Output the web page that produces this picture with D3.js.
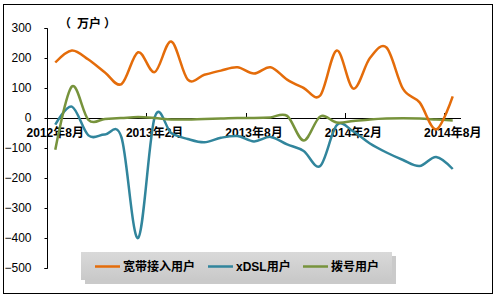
<!DOCTYPE html>
<html>
<head>
<meta charset="utf-8">
<script src="https://cdn.jsdelivr.net/npm/d3@7"></script>
<style>
  body { margin: 0; background: #fff; }
  text { font-family: "Liberation Sans", Arial, "Noto Sans CJK SC", sans-serif; }
  .cn { font-family: "Liberation Sans", "Noto Sans CJK SC", sans-serif; font-weight: bold; }
  .unit { font-family: "Noto Sans CJK SC", sans-serif; font-weight: bold; }
</style>
</head>
<body>
<div id="chart"></div>
<script>
// months on the category axis
var months = ["2012年8月","2012年9月","2012年10月","2012年11月","2012年12月",
    "2013年1月","2013年2月","2013年3月","2013年4月","2013年5月","2013年6月","2013年7月",
    "2013年8月","2013年9月","2013年10月","2013年11月","2013年12月","2014年1月",
    "2014年2月","2014年3月","2014年4月","2014年5月","2014年6月","2014年7月","2014年8月"];
var tickLabels = ["2012年8月","2013年2月","2013年8月","2014年2月","2014年8月"];
var yTicks = [300, 200, 100, 0, -100, -200, -300, -400, -500];
var seriesNames = ["宽带接入用户", "xDSL用户", "拨号用户"];

// 万户
var broadband = [185, 225, 195, 152, 113, 219, 153, 255, 128, 144, 158, 169, 148,
                 169, 128, 100, 75, 225, 98, 200, 235, 97, 52, -38, 72];
var xdsl = [-22, 38, -58, -55, -65, -400, 2, -50, -70, -81, -66, -60, -78,
            -63, -88, -110, -160, -24, -45, -85, -115, -140, -160, -130, -170];
var dialup = [-106, 105, -6, -3, 0, 3, 0, -5, -5, -3, -2, 0, 0,
              2, 7, -75, 5, -15, -10, -5, -2, -1, -2, -5, -8];

var colors = ["#E46C0A", "#31859C", "#77933C"];

var svg = d3.select("#chart").append("svg")
    .attr("width", 501)
    .attr("height", 301);

// outer frame
svg.append("rect")
    .attr("x", 3.5).attr("y", 4.5)
    .attr("width", 489).attr("height", 289)
    .attr("fill", "#fff")
    .attr("stroke", "#000");

var x = d3.scaleBand()
    .domain(months)
    .range([47, 461]);

var y = d3.scaleLinear()
    .domain([-500, 300])
    .range([268, 28]);

// y axis
var yAxis = svg.append("g")
    .attr("transform", "translate(47.5,0)")
    .call(d3.axisLeft(y).tickValues(yTicks).tickSize(3).tickPadding(13));
yAxis.select(".domain").attr("stroke", "#000").attr("d", "M-3,28.5H0V268.5H-3");
yAxis.selectAll("text")
    .attr("font-size", 12)
    .attr("fill", "#000")
    .attr("font-family", "'Liberation Sans', Arial, sans-serif");

// x axis at zero
var xg = svg.append("g");
xg.append("line")
    .attr("x1", 47).attr("x2", 461)
    .attr("y1", y(0) + 0.5).attr("y2", y(0) + 0.5)
    .attr("stroke", "#000");
xg.selectAll(".tk")
    .data(tickLabels)
    .enter().append("line")
    .attr("class", "tk")
    .attr("x1", function(d){ return Math.round(x(d)) + 0.5; })
    .attr("x2", function(d){ return Math.round(x(d)) + 0.5; })
    .attr("y1", y(0) - 5)
    .attr("y2", y(0) + 0.5)
    .attr("stroke", "#000");
xg.selectAll(".lb")
    .data(tickLabels)
    .enter().append("text")
    .attr("class", "cn lb")
    .attr("x", function(d){ return x(d) + x.bandwidth() / 2; })
    .attr("y", y(0) + 19)
    .attr("text-anchor", "middle")
    .attr("font-size", 12)
    .attr("fill", "#000")
    .text(function(d){ return d; });

// unit label, parens spaced out like the original
var unit = svg.append("text")
    .attr("class", "unit")
    .attr("y", 28)
    .attr("font-size", 12);
unit.append("tspan").attr("x", 59).text("（");
unit.append("tspan").attr("x", 77).text("万户");
unit.append("tspan").attr("x", 104).text("）");

// lines
var line = d3.line()
    .x(function(d, i){ return x(months[i]) + x.bandwidth() / 2; })
    .y(function(d){ return y(d); })
    .curve(d3.curveCardinal);

var allSeries = [broadband, xdsl, dialup];
var drawOrder = [1, 2, 0];
drawOrder.forEach(function(k){
    svg.append("path")
        .datum(allSeries[k])
        .attr("fill", "none")
        .attr("stroke", colors[k])
        .attr("stroke-width", 2.5)
        .attr("stroke-linejoin", "round")
        .attr("d", line);
});

// legend
var defs = svg.append("defs");
var grad = defs.append("linearGradient")
    .attr("id", "lg").attr("x1", 0).attr("y1", 0).attr("x2", 0).attr("y2", 1);
grad.append("stop").attr("offset", "0%").attr("stop-color", "#d9d9d9");
grad.append("stop").attr("offset", "100%").attr("stop-color", "#c9c9c9");

var legend = svg.append("g").attr("transform", "translate(81,252)");
legend.append("rect")
    .attr("x", 4).attr("y", 4)
    .attr("width", 311).attr("height", 28)
    .attr("fill", "#a6a6a6")
    .attr("opacity", 0.6);
legend.append("rect")
    .attr("x", 0).attr("y", 0)
    .attr("width", 311).attr("height", 28)
    .attr("fill", "url(#lg)");

var legX = [14, 127, 222];
seriesNames.forEach(function(name, i){
    legend.append("line")
        .attr("x1", legX[i]).attr("x2", legX[i] + 25)
        .attr("y1", 14.5).attr("y2", 14.5)
        .attr("stroke", colors[i])
        .attr("stroke-width", 2.5);
    legend.append("text")
        .attr("class", "cn")
        .attr("x", legX[i] + 28)
        .attr("y", 19)
        .attr("font-size", 12)
        .attr("fill", "#000")
        .text(name);
});
</script>
</body>
</html>
